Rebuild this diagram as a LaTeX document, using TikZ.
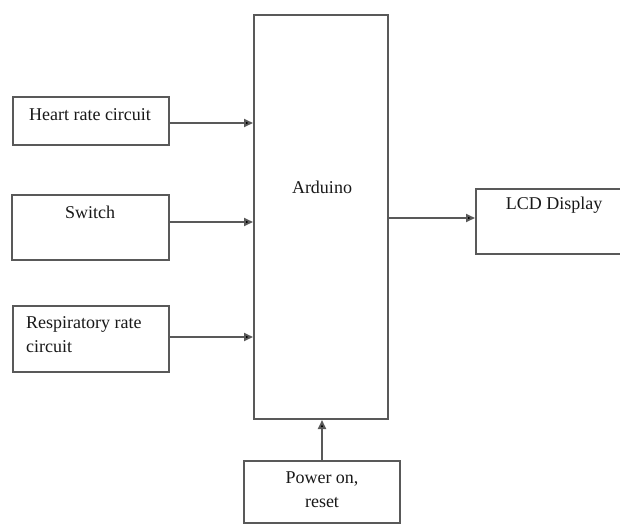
\documentclass[tikz,border=0pt]{standalone}
\usepackage{fontspec}
\setmainfont{Liberation Serif}
\usetikzlibrary{arrows.meta}
\begin{document}
\begin{tikzpicture}[x=1pt,y=-1pt,
  box/.style={draw=black!65, line width=2pt, fill=white, inner sep=0pt, rectangle},
  lbl/.style={inner sep=0pt, font=\fontsize{18}{24}\selectfont, text=black!90},
  arr/.style={draw=black!65, line width=1.8pt, -{Triangle[length=9pt,width=8pt,fill=black]}}]
\useasboundingbox[fill=white] (0,0) rectangle (620,525);
% boxes
\node[box, minimum width=156pt, minimum height=48pt] (heart) at (91,121) {};
\node[box, minimum width=157pt, minimum height=65pt] (switch) at (90.5,227.5) {};
\node[box, minimum width=156pt, minimum height=66pt] (resp) at (91,339) {};
\node[box, minimum width=134pt, minimum height=404pt] (ard) at (321,217) {};
\node[box, minimum width=160pt, minimum height=65pt] (lcd) at (556,221.5) {};
\node[box, minimum width=156pt, minimum height=62pt] (power) at (322,492) {};
% labels
\node[lbl] (heartt) at (90,115) {Heart rate circuit};
\node[lbl] (switcht) at (90,212) {Switch};
\node[lbl, align=left, anchor=west] (respt) at (26,335) {Respiratory rate\\circuit};
\node[lbl] (ardt) at (322,187) {Arduino};
\node[lbl] (lcdt) at (554,205) {LCD Display};
\node[lbl, align=center] (powert) at (322,490) {Power on,\\reset};
% connectors
\draw[arr] ([yshift=-2pt]heart.east) -- ([yshift=-2pt]heart.east -| ard.west);
\draw[arr] ([yshift=5.5pt]switch.east) -- ([yshift=5.5pt]switch.east -| ard.west);
\draw[arr] ([yshift=2pt]resp.east) -- ([yshift=2pt]resp.east -| ard.west);
\draw[arr] ([yshift=3.5pt]ard.east |- lcd.west) -- ([yshift=3.5pt]lcd.west);
\draw[arr] (power.north) -- (power.north |- ard.south);
\end{tikzpicture}
\end{document}
